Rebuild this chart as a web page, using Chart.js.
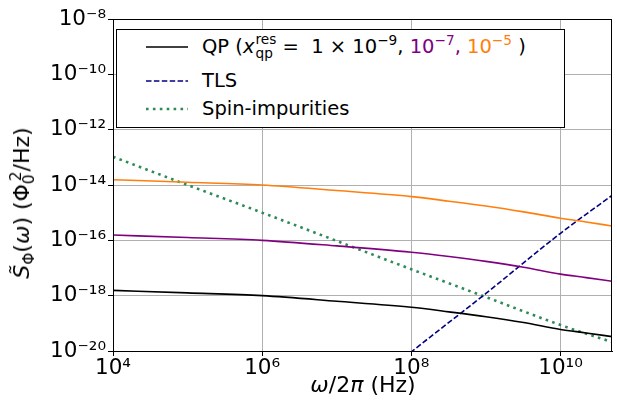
<!DOCTYPE html>
<html><head><meta charset="utf-8">
<script src="https://cdn.jsdelivr.net/npm/chart.js@4"></script>
<style>
html,body{margin:0;padding:0;background:#fff;}
#wrap{position:relative;width:617px;height:403px;font-family:"DejaVu Sans",sans-serif;}
canvas{position:absolute;left:0;top:0;}
.ov{position:absolute;white-space:nowrap;color:#000;line-height:1;}
#ytitle{left:22px;top:203px;transform:translate(-50%,-50%) rotate(-90deg);font-size:22px;}
#xtitle{left:363px;top:385px;transform:translate(-50%,-50%);font-size:22px;}
#legend{left:116px;top:29px;width:447px;height:97px;border:1px solid #000;background:#fff;font-size:19.5px;}
.row{position:absolute;left:0;height:0;width:100%;}
.row svg{position:absolute;left:29px;top:-3px;}
.row .txt{position:absolute;left:85px;top:0;transform:translateY(-50%);white-space:nowrap;line-height:1.2;}
sup,sub{font-size:0.7em;line-height:0;}
.ss{display:inline-flex;flex-direction:column;vertical-align:middle;font-size:0.7em;line-height:1.05;margin-left:1px;position:relative;top:-1px;}
</style></head>
<body>
<div id="wrap">
<canvas id="c" width="617" height="403"></canvas>
<div class="ov" id="ytitle"><i>S̃</i><sub>Φ</sub>(<i>ω</i>) (Φ<sub>0</sub><sup style="margin-left:-0.45em">2</sup>/Hz)</div>
<div class="ov" id="xtitle"><i>ω</i>/2<i>π</i> (Hz)</div>
<div class="ov" id="legend">
  <div class="row" style="top:17px"><svg width="42" height="6"><line x1="0" y1="3" x2="42" y2="3" stroke="#000" stroke-width="1.6"/></svg>
    <span class="txt">QP (<i>x</i><span class="ss"><span>res</span><span>qp</span></span> = &nbsp;1 × 10<sup>−9</sup>, <span style="color:#800080">10<sup>−7</sup>, </span><span style="color:#ff7f0e">10<sup>−5</sup></span> )</span></div>
  <div class="row" style="top:51px"><svg width="42" height="6"><line x1="0" y1="3" x2="42" y2="3" stroke="#000080" stroke-width="1.6" stroke-dasharray="5.5 2.4"/></svg>
    <span class="txt">TLS</span></div>
  <div class="row" style="top:79px"><svg width="42" height="6"><line x1="0" y1="3" x2="42" y2="3" stroke="#2e8b57" stroke-width="2.6" stroke-dasharray="2.6 4.3"/></svg>
    <span class="txt">Spin-impurities</span></div>
</div>
</div>
<script>
// ---- data ----
const qpFreq   = [1e4, 1e5, 1e6, 1e7, 1e8, 3.2e8, 1e9, 3.2e9, 1e10, 2.2e10, 4.9e10];
const qpLow    = [1.55e-18, 1.26e-18, 1.0e-18, 6.3e-19, 3.8e-19, 2.6e-19, 1.74e-19, 1.07e-19, 6.0e-20, 4.5e-20, 3.3e-20];
const qpMid    = [1.55e-16, 1.26e-16, 1.0e-16, 6.3e-17, 3.7e-17, 2.6e-17, 1.74e-17, 1.07e-17, 6.0e-18, 4.5e-18, 3.3e-18];
const qpHigh   = [1.55e-14, 1.26e-14, 1.0e-14, 6.3e-15, 3.8e-15, 2.6e-15, 1.74e-15, 1.07e-15, 6.3e-16, 4.6e-16, 3.3e-16];
const tlsFreq  = [8e7, 1e8, 1e9, 1e10, 4.9e10];
const tlsVals  = [5.7e-21, 9.3e-21, 1.2e-18, 1.8e-16, 4.2e-15];
const spinFreq = [1e4, 1e5, 1e6, 1e7, 1e8, 1e9, 1e10, 4.9e10];
const spinVals = [1.05e-13, 1.0e-14, 1.0e-15, 9.5e-17, 9.0e-18, 8.9e-19, 8.7e-20, 2.1e-20];
const xTicks = [1e4, 1e6, 1e8, 1e10];
const xTickLabels = ['10⁴', '10⁶', '10⁸', '10¹⁰'];
const yTicks = [1e-20, 1e-18, 1e-16, 1e-14, 1e-12, 1e-10, 1e-8];
const yTickLabels = ['10⁻²⁰', '10⁻¹⁸', '10⁻¹⁶', '10⁻¹⁴', '10⁻¹²', '10⁻¹⁰', '10⁻⁸'];
const xMin = 1e4, xMax = 4.9e10, yMin = 1e-20, yMax = 1e-8;

const pts = (xs, ys) => xs.map((x, i) => ({x: x, y: ys[i]}));
const FONT = '"DejaVu Sans", sans-serif';

const framePlugin = {
  id: 'frame',
  afterDatasetsDraw(chart) {
    const a = chart.chartArea, ctx = chart.ctx;
    ctx.save();
    ctx.strokeStyle = '#000';
    ctx.lineWidth = 1;
    ctx.strokeRect(Math.round(a.left) + 0.5, Math.round(a.top) + 0.5, Math.round(a.right - a.left) - 1, Math.round(a.bottom - a.top));
    ctx.restore();
  }
};

function fixTicks(vals) {
  return function(scale) { scale.ticks = vals.map(v => ({value: v})); };
}

new Chart(document.getElementById('c'), {
  type: 'line',
  data: {
    datasets: [
      {label: 'QP 1e-9', data: pts(qpFreq, qpLow), borderColor: '#000000', borderWidth: 1.6},
      {label: 'QP 1e-7', data: pts(qpFreq, qpMid), borderColor: '#800080', borderWidth: 1.6},
      {label: 'QP 1e-5', data: pts(qpFreq, qpHigh), borderColor: '#ff7f0e', borderWidth: 1.6},
      {label: 'TLS', data: pts(tlsFreq, tlsVals), borderColor: '#000080', borderWidth: 1.6, borderDash: [5.5, 2.4]},
      {label: 'Spin-impurities', data: pts(spinFreq, spinVals), borderColor: '#2e8b57', borderWidth: 2.6, borderDash: [2.6, 4.3], borderCapStyle: 'butt'}
    ]
  },
  options: {
    responsive: false,
    animation: false,
    devicePixelRatio: 1,
    parsing: true,
    elements: {point: {radius: 0}, line: {cubicInterpolationMode: 'monotone', fill: false}},
    layout: {padding: {left: 0, right: 5, top: 19, bottom: 0}},
    plugins: {legend: {display: false}, tooltip: {enabled: false}},
    scales: {
      x: {
        type: 'logarithmic', min: xMin, max: xMax,
        afterBuildTicks: fixTicks(xTicks),
        afterFit(scale) { scale.height = 52; },
        grid: {color: '#b0b0b0', lineWidth: 1, drawTicks: true, tickLength: 5, tickColor: '#000', tickWidth: 1},
        border: {display: true, color: '#000', width: 1},
        ticks: {
          autoSkip: false, maxRotation: 0, padding: 0, color: '#000',
          font: {family: FONT, size: 21.5},
          callback: (v) => xTickLabels[xTicks.indexOf(v)]
        }
      },
      y: {
        type: 'logarithmic', min: yMin, max: yMax,
        afterBuildTicks: fixTicks(yTicks),
        afterFit(scale) { scale.width = 113; },
        grid: {color: '#b0b0b0', lineWidth: 1, drawTicks: true, tickLength: 5, tickColor: '#000', tickWidth: 1},
        border: {display: true, color: '#000', width: 1},
        ticks: {
          autoSkip: false, padding: 2, color: '#000',
          font: {family: FONT, size: 21.5},
          callback: (v) => yTickLabels[yTicks.indexOf(v)]
        }
      }
    }
  },
  plugins: [framePlugin]
});
</script>
</body></html>
